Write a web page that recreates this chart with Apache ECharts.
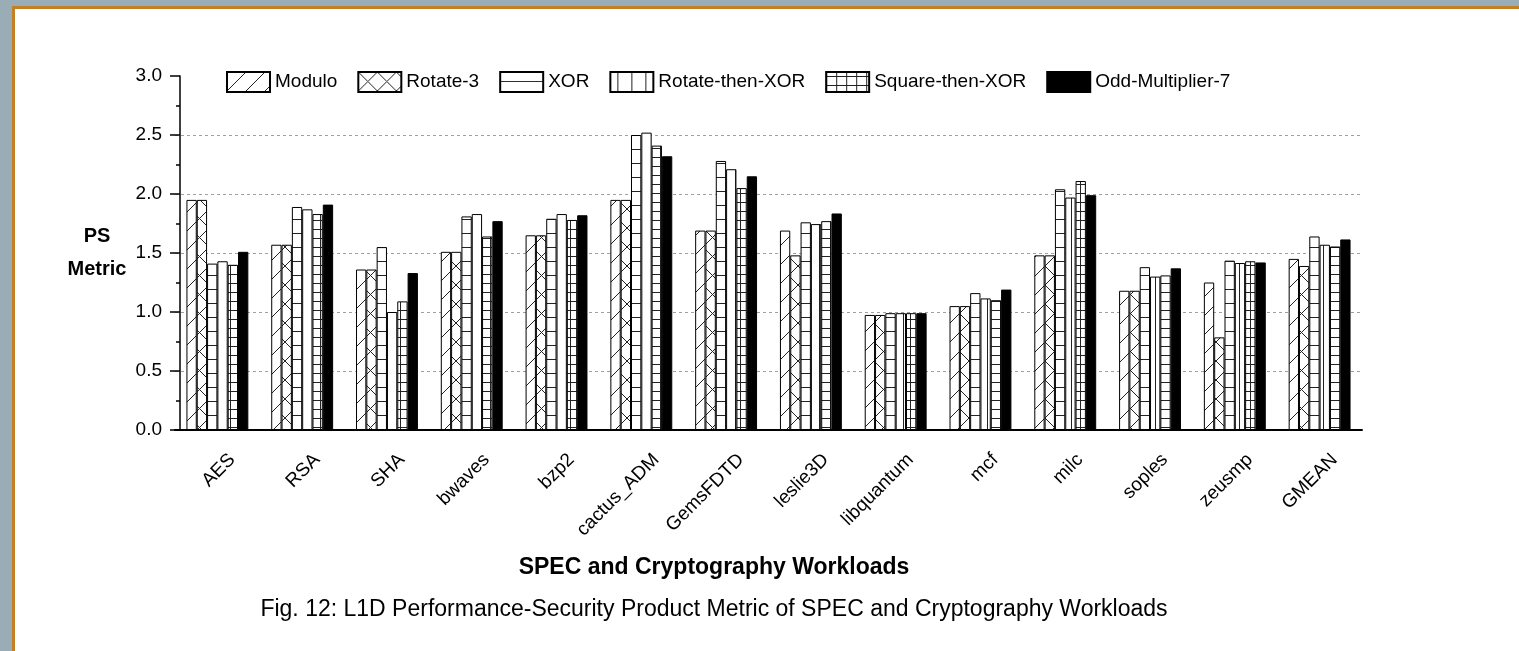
<!DOCTYPE html>
<html>
<head>
<meta charset="utf-8">
<title>L1D PS Metric</title>
<script src="https://cdn.jsdelivr.net/npm/echarts@6/dist/echarts.min.js"></script>
<style>
  html, body { margin: 0; padding: 0; width: 1519px; height: 651px; overflow: hidden; background: #9aacb5; }
  #panel { position: absolute; left: 12px; top: 6px; width: 1520px; height: 660px; background: #fff; border: 3px solid #c27f24; }
  #chart { position: absolute; left: 0; top: 0; width: 1519px; height: 651px; }
</style>
</head>
<body>
<div id="panel"></div>
<div id="chart"></div>
<script>
// categories / series values
const categories = ['AES', 'RSA', 'SHA', 'bwaves', 'bzp2', 'cactus_ADM', 'GemsFDTD', 'leslie3D', 'libquantum', 'mcf', 'milc', 'soples', 'zeusmp', 'GMEAN']
const seriesNames = ['Modulo', 'Rotate-3', 'XOR', 'Rotate-then-XOR', 'Square-then-XOR', 'Odd-Multiplier-7']

const modulo = [1.95, 1.57, 1.36, 1.51, 1.65, 1.95, 1.69, 1.69, 0.975, 1.05, 1.48, 1.18, 1.25, 1.45]
const rotate3 = [1.95, 1.57, 1.36, 1.51, 1.65, 1.95, 1.69, 1.48, 0.975, 1.05, 1.48, 1.18, 0.785, 1.39]
const xor = [1.41, 1.89, 1.55, 1.81, 1.79, 2.50, 2.28, 1.76, 0.99, 1.16, 2.04, 1.38, 1.435, 1.64]
const rotateThenXor = [1.43, 1.87, 1.00, 1.83, 1.83, 2.52, 2.21, 1.745, 0.99, 1.115, 1.97, 1.30, 1.415, 1.57]
const squareThenXor = [1.40, 1.83, 1.09, 1.64, 1.78, 2.41, 2.05, 1.77, 0.99, 1.10, 2.11, 1.31, 1.43, 1.555]
const oddMultiplier7 = [1.51, 1.91, 1.33, 1.77, 1.82, 2.32, 2.15, 1.835, 0.99, 1.19, 1.99, 1.37, 1.42, 1.615]

const FONT = "'Liberation Sans', Arial, sans-serif"

// small canvas tiles used as hatch fills
function makeTile(w, h, draw) {
  const c = document.createElement('canvas')
  c.width = w
  c.height = h
  const ctx = c.getContext('2d')
  ctx.fillStyle = '#fff'
  ctx.fillRect(0, 0, w, h)
  ctx.strokeStyle = '#222'
  ctx.lineWidth = 1
  ctx.beginPath()
  draw(ctx, w, h)
  ctx.stroke()
  return { image: c, repeat: 'repeat' }
}

const fills = [
  // "/" diagonal
  makeTile(19, 19, (ctx, w, h) => { ctx.moveTo(-1, h + 1); ctx.lineTo(w + 1, -1) }),
  // crossed diagonals
  makeTile(19, 19, (ctx, w, h) => {
    ctx.moveTo(-1, h + 1); ctx.lineTo(w + 1, -1)
    ctx.moveTo(-1, -1); ctx.lineTo(w + 1, h + 1)
  }),
  // horizontal lines
  makeTile(14, 14, (ctx, w, h) => { ctx.moveTo(0, 9.5); ctx.lineTo(w, 9.5) }),
  // vertical lines
  makeTile(14, 14, (ctx, w, h) => { ctx.moveTo(7.5, 0); ctx.lineTo(7.5, h) }),
  // grid
  makeTile(10, 9, (ctx, w, h) => {
    ctx.moveTo(0.5, 0); ctx.lineTo(0.5, h)
    ctx.moveTo(0, 4.5); ctx.lineTo(w, 4.5)
  }),
  '#000'
]

const values = [modulo, rotate3, xor, rotateThenXor, squareThenXor, oddMultiplier7]

const series = seriesNames.map((name, i) => ({
  name: name,
  type: 'bar',
  barGap: '0%',
  barCategoryGap: '27%',
  itemStyle: {
    color: fills[i],
    borderColor: '#000',
    borderWidth: 1
  },
  data: values[i]
}))

const myChart = echarts.init(document.getElementById('chart'))
myChart.setOption({
  animation: false,
  backgroundColor: 'transparent',
  textStyle: { fontFamily: FONT },
  // groups sit a little left of centre in the original, so the grid starts
  // 5px left of the y axis line (moved back in with a negative offset)
  grid: {
    left: 175,
    right: 157,
    top: 76,
    bottom: 221
  },
  legend: {
    data: seriesNames,
    left: 226,
    top: 71,
    padding: 0,
    icon: 'rect',
    itemWidth: 43,
    itemHeight: 20,
    itemGap: 20,
    textStyle: { color: '#000', fontSize: 19, fontFamily: FONT }
  },
  xAxis: {
    type: 'category',
    data: categories,
    axisLine: { lineStyle: { color: '#000', width: 2 } },
    axisTick: { show: false },
    axisLabel: {
      interval: 0,
      rotate: 45,
      margin: 12,
      // tall line box pushes the rotated text down-right of the tick
      verticalAlign: 'top',
      lineHeight: 42,
      color: '#000',
      fontSize: 19,
      fontFamily: FONT
    }
  },
  yAxis: {
    type: 'value',
    min: 0,
    max: 3,
    interval: 0.5,
    offset: -5,
    axisLine: { show: true, lineStyle: { color: '#000', width: 1.5 } },
    axisTick: { show: true, length: 10, lineStyle: { color: '#000', width: 1.5 } },
    minorTick: { show: true, splitNumber: 2, length: 4, lineStyle: { color: '#000', width: 1.5 } },
    splitLine: {
      show: true,
      showMaxLine: false,
      lineStyle: { color: '#a0a0a0', type: [3, 3], width: 1 }
    },
    axisLabel: {
      margin: 18,
      color: '#000',
      fontSize: 19,
      fontFamily: FONT,
      formatter: v => v.toFixed(1)
    }
  },
  graphic: [
    {
      type: 'text', x: 97, y: 236,
      style: { text: 'PS', font: 'bold 20px ' + FONT, fill: '#000', align: 'center', verticalAlign: 'middle' }
    },
    {
      type: 'text', x: 97, y: 269,
      style: { text: 'Metric', font: 'bold 20px ' + FONT, fill: '#000', align: 'center', verticalAlign: 'middle' }
    },
    {
      type: 'text', x: 714, y: 568,
      style: { text: 'SPEC and Cryptography Workloads', font: 'bold 23px ' + FONT, fill: '#000', align: 'center', verticalAlign: 'middle' }
    },
    {
      type: 'text', x: 714, y: 610,
      style: { text: 'Fig. 12: L1D Performance-Security Product Metric of SPEC and Cryptography Workloads', font: '23px ' + FONT, fill: '#000', align: 'center', verticalAlign: 'middle' }
    }
  ],
  series: series
})
</script>
</body>
</html>
